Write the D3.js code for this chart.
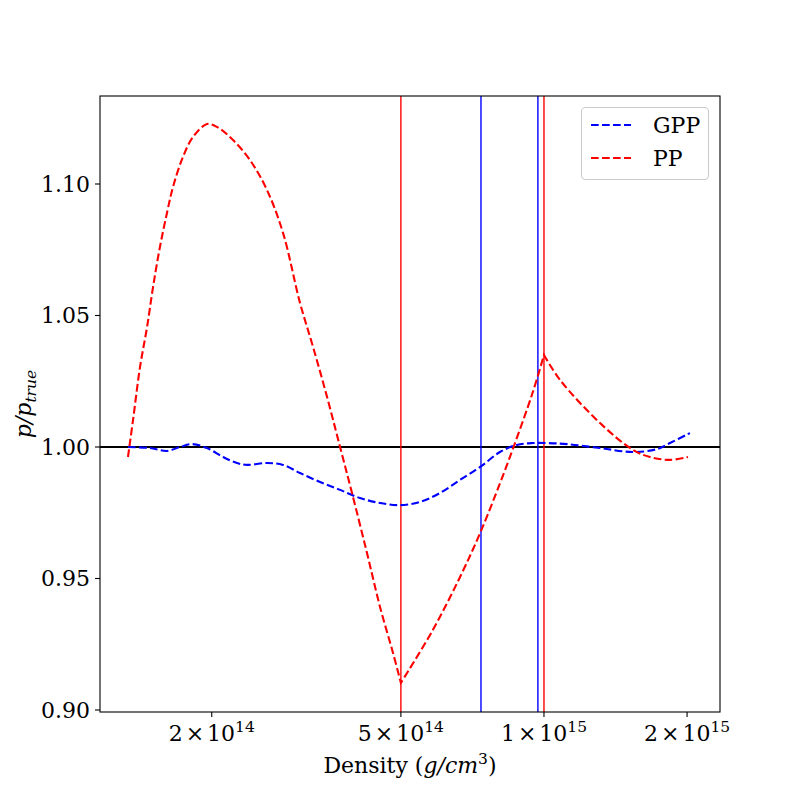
<!DOCTYPE html>
<html lang="en">
<head>
    <meta charset="UTF-8">
    <script src="https://cdn.jsdelivr.net/npm/d3@7"></script>
    <title>p/p_true vs density</title>
    <style>
        body { margin: 0; background: white; }
        svg text { font-family: 'DejaVu Serif', serif; fill: black; }
    </style>
</head>
<body>
<div class="fig"></div>
<script>
    // ---- data ----
    // PP curve, split at its kinks (5e14 and 1e15)
    const rhoPP = [1.333e14, 1.366e14, 1.413e14, 1.462e14, 1.505e14, 1.556e14, 1.61e14, 1.658e14, 1.740e14,
        1.827e14, 1.955e14, 2.052e14, 2.217e14, 2.407e14, 2.614e14, 2.825e14, 3.067e14, 3.268e14, 3.497e14,
        3.724e14, 3.946e14, 4.243e14, 4.519e14, 4.813e14, 5.0e14, 5.84e14, 6.66e14, 7.34e14, 8.08e14, 8.61e14,
        9.48e14, 1.0e15, 1.081e15, 1.312e15, 1.539e15, 1.671e15, 1.841e15, 2.009e15];
    const ratioPP = [0.9962, 1.0103, 1.0304, 1.0456, 1.0608, 1.0760, 1.0890, 1.0989, 1.1103,
        1.1179, 1.1228, 1.1217, 1.1167, 1.1091, 1.0977, 1.0814, 1.0548, 1.0380, 1.0190,
        1.0000, 0.9825, 0.9597, 0.9392, 0.9217, 0.9103, 0.9305, 0.9506, 0.9673, 0.9862, 0.9995,
        1.0210, 1.0350, 1.0255, 1.0091, 0.9989, 0.9962, 0.9951, 0.9962];
    const kinksPP = [5.0e14, 1.0e15];

    // GPP curve
    const rhoGPP = [1.333e14, 1.483e14, 1.61e14, 1.715e14, 1.818e14, 1.955e14, 2.113e14, 2.26e14, 2.373e14,
        2.614e14, 2.825e14, 3.067e14, 3.38e14, 3.724e14, 4.102e14, 4.519e14, 4.98e14, 5.486e14, 6.04e14,
        6.66e14, 7.34e14, 8.08e14, 8.77e14, 9.48e14, 1.015e15, 1.118e15, 1.312e15, 1.539e15, 1.729e15,
        1.841e15, 2.028e15];
    const ratioGPP = [1.0000, 0.9996, 0.9985, 1.0000, 1.0011, 0.9996, 0.9962, 0.9939, 0.9932,
        0.9939, 0.9932, 0.9901, 0.9867, 0.9837, 0.9806, 0.9787, 0.9779, 0.9791, 0.9825,
        0.9875, 0.9924, 0.9981, 1.0008, 1.0015, 1.0015, 1.0011, 0.9996, 0.9981, 0.9992,
        1.0015, 1.0053];

    // vertical marker lines
    const vlinesPP = [5.0e14, 1.0e15];
    const vlinesGPP = [7.37e14, 9.71e14];

    const xTicks = [2e14, 5e14, 1e15, 2e15];
    const xTickMant = ["2", "5", "1", "2"];
    const xTickExp = ["14", "14", "15", "15"];
    const yTicks = [0.90, 0.95, 1.00, 1.05, 1.10];

    const seriesNames = ["GPP", "PP"];
    const seriesColors = ["blue", "red"];

    // ---- layout ----
    const W = 800, H = 800;
    const m = {left: 100, right: 80, top: 96, bottom: 88};

    const svg = d3.select(".fig").append("svg")
        .attr("width", W)
        .attr("height", H);

    const x = d3.scaleLog()
        .domain([1.164e14, 2.346e15])
        .range([m.left, W - m.right]);

    const y = d3.scaleLinear()
        .domain([0.89924, 1.13346])
        .range([H - m.bottom, m.top]);

    svg.append("clipPath").attr("id", "clip")
        .append("rect")
        .attr("x", m.left).attr("y", m.top)
        .attr("width", W - m.left - m.right).attr("height", H - m.top - m.bottom);

    const plot = svg.append("g").attr("clip-path", "url(#clip)");

    // horizontal reference at 1
    plot.append("line")
        .attr("x1", m.left).attr("x2", W - m.right)
        .attr("y1", y(1)).attr("y2", y(1))
        .attr("stroke", "black").attr("stroke-width", 2);

    // vertical lines
    plot.selectAll(".vpp").data(vlinesPP).enter().append("line")
        .attr("x1", d => x(d)).attr("x2", d => x(d))
        .attr("y1", m.top).attr("y2", H - m.bottom)
        .attr("stroke", "red").attr("stroke-width", 1.4);

    plot.selectAll(".vgpp").data(vlinesGPP).enter().append("line")
        .attr("x1", d => x(d)).attr("x2", d => x(d))
        .attr("y1", m.top).attr("y2", H - m.bottom)
        .attr("stroke", "blue").attr("stroke-width", 1.4);

    const line = d3.line()
        .x(d => x(d[0]))
        .y(d => y(d[1]))
        .curve(d3.curveCatmullRom.alpha(0.5));

    // GPP
    const gppPts = rhoGPP.map((r, i) => [r, ratioGPP[i]]);
    plot.append("path")
        .attr("d", line(gppPts))
        .attr("fill", "none")
        .attr("stroke", "blue")
        .attr("stroke-width", 2.1)
        .attr("stroke-dasharray", "7.7,3.3");

    // PP: smooth pieces joined at the kinks
    const ppPts = rhoPP.map((r, i) => [r, ratioPP[i]]);
    const cuts = [rhoPP[0], ...kinksPP, rhoPP[rhoPP.length - 1]];
    let ppD = "";
    for (let k = 0; k < cuts.length - 1; k++) {
        const seg = ppPts.filter(p => p[0] >= cuts[k] && p[0] <= cuts[k + 1]);
        let s = line(seg);
        if (k > 0) s = s.replace(/^M[^CL]*/, "");
        ppD += s;
    }
    plot.append("path")
        .attr("d", ppD)
        .attr("fill", "none")
        .attr("stroke", "red")
        .attr("stroke-width", 2.1)
        .attr("stroke-dasharray", "7.7,3.3");

    // ---- axes frame ----
    svg.append("rect")
        .attr("x", m.left).attr("y", m.top)
        .attr("width", W - m.left - m.right).attr("height", H - m.top - m.bottom)
        .attr("fill", "none").attr("stroke", "black").attr("stroke-width", 1.1);

    // x ticks
    const xt = svg.append("g");
    xTicks.forEach((t, i) => {
        xt.append("line")
            .attr("x1", x(t)).attr("x2", x(t))
            .attr("y1", H - m.bottom).attr("y2", H - m.bottom + 5)
            .attr("stroke", "black").attr("stroke-width", 1.1);
        const txt = xt.append("text")
            .attr("x", x(t)).attr("y", H - m.bottom + 29)
            .attr("text-anchor", "middle")
            .attr("font-size", 22);
        txt.append("tspan").text(xTickMant[i]);
        txt.append("tspan").text("\u00d7").attr("dx", 3);
        txt.append("tspan").text("10").attr("dx", 3);
        txt.append("tspan").text(xTickExp[i]).attr("font-size", 15.5).attr("dy", -9);
    });

    // y ticks
    const yt = svg.append("g");
    yTicks.forEach(t => {
        yt.append("line")
            .attr("x1", m.left - 5).attr("x2", m.left)
            .attr("y1", y(t)).attr("y2", y(t))
            .attr("stroke", "black").attr("stroke-width", 1.1);
        yt.append("text")
            .attr("x", m.left - 10).attr("y", y(t))
            .attr("dy", "0.36em")
            .attr("text-anchor", "end")
            .attr("font-size", 22)
            .text(t.toFixed(2));
    });

    // axis labels
    const xl = svg.append("text")
        .attr("x", (m.left + W - m.right) / 2)
        .attr("y", 773)
        .attr("text-anchor", "middle")
        .attr("font-size", 22);
    xl.append("tspan").text("Density (");
    xl.append("tspan").text("g/cm").attr("font-style", "italic");
    xl.append("tspan").text("3").attr("font-size", 15.5).attr("dy", -9);
    xl.append("tspan").text(")").attr("dy", 9);

    const yl = svg.append("text")
        .attr("transform", `translate(31,${(m.top + H - m.bottom) / 2}) rotate(-90)`)
        .attr("text-anchor", "middle")
        .attr("font-size", 22);
    yl.append("tspan").text("p/p").attr("font-style", "italic");
    yl.append("tspan").text("true").attr("font-style", "italic").attr("font-size", 15.5).attr("dy", 5);

    // ---- legend ----
    const lg = svg.append("g");
    lg.append("rect")
        .attr("x", 581.5).attr("y", 107.5)
        .attr("width", 127).attr("height", 72)
        .attr("rx", 4)
        .attr("fill", "white").attr("fill-opacity", 0.8)
        .attr("stroke", "#cccccc").attr("stroke-width", 1.1);
    seriesNames.forEach((name, i) => {
        const ly = 125 + i * 33;
        lg.append("line")
            .attr("x1", 591).attr("x2", 631)
            .attr("y1", ly).attr("y2", ly)
            .attr("stroke", seriesColors[i])
            .attr("stroke-width", 2.1)
            .attr("stroke-dasharray", "7.7,3.3");
        lg.append("text")
            .attr("x", 653).attr("y", ly)
            .attr("dy", "0.36em")
            .attr("font-size", 22)
            .text(name);
    });
</script>
</body>
</html>
